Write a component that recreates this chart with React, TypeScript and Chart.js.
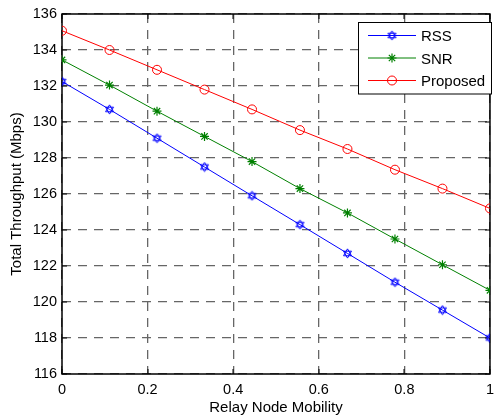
import React, { useEffect, useRef } from "react";
import { Chart, registerables } from "chart.js";

Chart.register(...registerables);

const mobility = [0, 0.111, 0.222, 0.333, 0.444, 0.556, 0.667, 0.778, 0.889, 1];
const rss = [132.25, 130.7, 129.1, 127.5, 125.9, 124.3, 122.7, 121.1, 119.55, 118.0];
const snr = [133.45, 132.05, 130.6, 129.2, 127.8, 126.3, 124.95, 123.5, 122.07, 120.65];
const proposed = [135.07, 134.0, 132.9, 131.8, 130.7, 129.55, 128.5, 127.35, 126.3, 125.2];
const seriesNames = ["RSS", "SNR", "Proposed"];
const xTitle = "Relay Node Mobility";
const yTitle = "Total Throughput (Mbps)";

const FONT = "'Liberation Sans', Arial, sans-serif";

function makeHexagram(color: string): HTMLCanvasElement {
  const c = document.createElement("canvas");
  c.width = 11;
  c.height = 11;
  const g = c.getContext("2d")!;
  g.strokeStyle = color;
  g.lineWidth = 1;
  const cx = 5.5, cy = 5.5, r = 4.6;
  for (let k = 0; k < 2; k++) {
    g.beginPath();
    for (let i = 0; i < 3; i++) {
      const a = -Math.PI / 2 + k * Math.PI + (i * 2 * Math.PI) / 3;
      const px = cx + r * Math.cos(a);
      const py = cy + r * Math.sin(a);
      if (i === 0) g.moveTo(px, py);
      else g.lineTo(px, py);
    }
    g.closePath();
    g.stroke();
  }
  return c;
}

export default function App() {
  const ref = useRef<HTMLCanvasElement | null>(null);

  useEffect(() => {
    if (!ref.current) return;
    const hex = makeHexagram("#0000ff");
    const colors = ["#0000ff", "#008000", "#ff0000"];

    const boxPlugin = {
      id: "matlabBox",
      beforeDatasetsDraw(chart: any) {
        const { ctx, chartArea } = chart;
        const { left, top, right, bottom } = chartArea;
        const xs = chart.scales.x;
        const ys = chart.scales.y;
        ctx.save();
        ctx.strokeStyle = "#000";
        ctx.lineWidth = 1;
        ctx.beginPath();
        xs.ticks.forEach((t: any) => {
          const px = Math.round(xs.getPixelForValue(t.value));
          ctx.moveTo(px, bottom);
          ctx.lineTo(px, bottom - 5);
          ctx.moveTo(px, top);
          ctx.lineTo(px, top + 5);
        });
        ys.ticks.forEach((t: any) => {
          const py = Math.round(ys.getPixelForValue(t.value));
          ctx.moveTo(left, py);
          ctx.lineTo(left + 5, py);
          ctx.moveTo(right, py);
          ctx.lineTo(right - 5, py);
        });
        ctx.stroke();
        ctx.lineWidth = 1.5;
        ctx.strokeRect(left, top, right - left, bottom - top);
        ctx.restore();
      },
      afterDatasetsDraw(chart: any) {
        const { ctx } = chart;
        ctx.save();
        const bx = 358.5, by = 22.5, bw = 133, bh = 71.5;
        ctx.fillStyle = "#fff";
        ctx.fillRect(bx, by, bw, bh);
        ctx.strokeStyle = "#000";
        ctx.lineWidth = 1;
        ctx.strokeRect(bx, by, bw, bh);
        const rows = [35.5, 58, 80.5];
        ctx.font = `15px ${FONT}`;
        ctx.textBaseline = "alphabetic";
        seriesNames.forEach((name, i) => {
          const y = rows[i];
          ctx.strokeStyle = colors[i];
          ctx.lineWidth = 1;
          ctx.beginPath();
          ctx.moveTo(368, y);
          ctx.lineTo(416, y);
          ctx.stroke();
          const mx = 392;
          if (i === 0) {
            ctx.drawImage(hex, mx - 5.5, y - 5.5);
          } else if (i === 1) {
            ctx.lineWidth = 1.2;
            ctx.beginPath();
            const r = 4.5;
            for (let k = 0; k < 4; k++) {
              const a = (k * Math.PI) / 4;
              ctx.moveTo(mx + r * Math.cos(a), y + r * Math.sin(a));
              ctx.lineTo(mx - r * Math.cos(a), y - r * Math.sin(a));
            }
            ctx.stroke();
          } else {
            ctx.beginPath();
            ctx.arc(mx, y, 4.5, 0, Math.PI * 2);
            ctx.stroke();
          }
          ctx.fillStyle = "#000";
          ctx.fillText(name, 421, y + 5.5);
        });
        ctx.restore();
      },
    };

    const toPts = (vals: number[]) => vals.map((v, i) => ({ x: mobility[i], y: v }));

    const chart = new Chart(ref.current, {
      type: "line",
      data: {
        datasets: [
          {
            label: seriesNames[0],
            data: toPts(rss),
            borderColor: colors[0],
            borderWidth: 1,
            pointStyle: hex as any,
            pointRadius: 5,
            pointBorderColor: colors[0],
            pointBackgroundColor: "rgba(0,0,0,0)",
            tension: 0,
          },
          {
            label: seriesNames[1],
            data: toPts(snr),
            borderColor: colors[1],
            borderWidth: 1,
            pointStyle: "star",
            pointRadius: 4.5,
            pointBorderWidth: 1.2,
            pointBorderColor: colors[1],
            pointBackgroundColor: "rgba(0,0,0,0)",
            tension: 0,
          },
          {
            label: seriesNames[2],
            data: toPts(proposed),
            borderColor: colors[2],
            borderWidth: 1,
            pointStyle: "circle",
            pointRadius: 4.5,
            pointBorderWidth: 1,
            pointBorderColor: colors[2],
            pointBackgroundColor: "rgba(0,0,0,0)",
            tension: 0,
          },
        ],
      },
      options: {
        responsive: false,
        animation: false,
        devicePixelRatio: 1,
        layout: { padding: { top: 14, right: 3, left: 0, bottom: 0 } },
        plugins: {
          legend: { display: false },
          tooltip: { enabled: false },
        },
        scales: {
          x: {
            type: "linear",
            min: 0,
            max: 1,
            ticks: {
              stepSize: 0.2,
              color: "#000",
              font: { family: FONT, size: 14.5 },
              padding: 7,
              maxRotation: 0,
              callback: (v: any) => String(Math.round(Number(v) * 10) / 10),
            },
            grid: { color: "#666", lineWidth: 1.3, drawTicks: false },
            border: { display: false, dash: [9, 7] },
            title: {
              display: true,
              text: xTitle,
              color: "#000",
              font: { family: FONT, size: 15 },
              padding: { top: 0, bottom: 2 },
            },
            afterFit: (s: any) => {
              s.height = 45;
            },
          },
          y: {
            type: "linear",
            min: 116,
            max: 136,
            ticks: {
              stepSize: 2,
              color: "#000",
              font: { family: FONT, size: 14.5 },
              padding: 5,
            },
            grid: { color: "#666", lineWidth: 1.3, drawTicks: false },
            border: { display: false, dash: [9, 7] },
            title: {
              display: true,
              text: yTitle,
              color: "#000",
              font: { family: FONT, size: 15 },
              padding: { top: 8, bottom: 0 },
            },
            afterFit: (s: any) => {
              s.width = 62;
            },
          },
        },
      },
      plugins: [boxPlugin],
    });
    return () => chart.destroy();
  }, []);

  return (
    <div style={{ position: "fixed", left: 0, top: 0, width: 501, height: 419, background: "#fff" }}>
      <canvas ref={ref} width={501} height={419} style={{ width: 501, height: 419 }} />
    </div>
  );
}
